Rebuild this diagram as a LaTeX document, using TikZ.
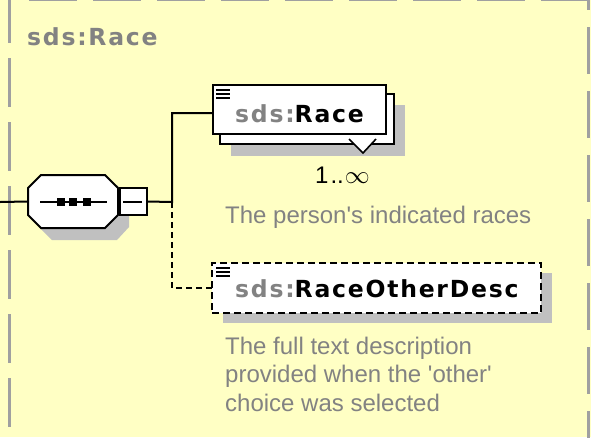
\documentclass[tikz,border=0pt]{standalone}
\usepackage{fontspec}
\setmainfont{Liberation Sans}
\newfontfamily\elfont[LetterSpace=7.5]{DejaVu Sans}
\definecolor{bgyellow}{HTML}{FFFFC4}
\definecolor{framegray}{HTML}{A0A0A0}
\definecolor{txtgray}{HTML}{828282}
\definecolor{shadowgray}{HTML}{C0C0C0}
\tikzset{
  frame/.style={draw=framegray, line width=3pt},
  conn/.style={draw=black, line width=2pt},
  dconn/.style={draw=black, line width=2pt, dash pattern=on 6pt off 4pt},
  elbox/.style={draw=black, fill=white, line width=2pt, rectangle, inner sep=0pt, outer sep=0pt, anchor=north west},
  shadow/.style={fill=shadowgray, draw=none},
  eltext/.style={anchor=base west, inner sep=0pt, font=\elfont\bfseries\fontsize{23.5}{28}\selectfont},
  desc/.style={anchor=base west, inner sep=0pt, text=txtgray, font=\fontsize{24}{28}\selectfont},
  icon/.style={draw=black, line width=1.6pt},
}
\begin{document}
\begin{tikzpicture}[x=1pt,y=-1pt]
\useasboundingbox (0,0) rectangle (591,437);
\fill[bgyellow] (0,0) rectangle (591,437);
% dashed group frame
\draw[frame, dash pattern=on 49pt off 15pt] (9.5,-6) -- (9.5,440);
\draw[frame, dash pattern=on 48pt off 16pt] (29,-0.5) -- (600,-0.5);
\draw[frame, dash pattern=on 47pt off 17pt] (588.3,-37) -- (588.3,440);
% title
\node[eltext, text=txtgray] (title) at (27,45) {sds:Race};
% sequence compositor
\fill[shadowgray] (52,185) -- (117,185) -- (129,198) -- (129,227) -- (117,240) -- (52,240) -- (39,227) -- (39,198) -- cycle;
\filldraw[fill=white, draw=black, line width=2pt] (41,175) -- (105,175) -- (118,188) -- (118,215) -- (105,228) -- (41,228) -- (28,215) -- (28,188) -- cycle;
\node[inner sep=0pt, minimum width=90pt, minimum height=53pt] (seq) at (73,201.5) {};
\draw[line width=2pt] (40,202) -- (107,202);
\foreach \cx in {61,73,87} \fill (\cx-4,198) rectangle (\cx+4,206);
% minus box
\node[draw=black, fill=white, line width=2pt, inner sep=0pt, minimum width=27pt, minimum height=27pt] (minus) at (133,201.5) {};
\draw[line width=2pt] (123,202) -- (142,202);
\coordinate (in) at (0,202);
\draw[conn] (in) -- (seq.west);
\coordinate (j) at (172,202);
% Race element (repeated)
\fill[shadow] (231,105) rectangle (405,156);
\node[elbox, minimum width=174pt, minimum height=50pt] (raceback) at (220,94) {};
\fill[white] (349,139) -- (363,153) -- (376,139) -- cycle;
\draw[line width=1.6pt] (349,139) -- (363,153) -- (376,139);
\node[elbox, minimum width=173pt, minimum height=49pt] (race) at (213,85) {};
\draw[icon] (216,90) -- (230,90) (216,94) -- (230,94) (216,98) -- (230,98);
\node[eltext] (racelbl) at (235,122) {\textcolor{txtgray}{sds:}Race};
\node[anchor=base west, inner sep=0pt, font=\fontsize{24}{28}\selectfont] (card) at (315,183) {1\kern2pt..\kern1pt$\infty$};
\node[desc] (racedesc) at (225,223) {The person\textquotesingle s indicated races};
% RaceOtherDesc element (optional)
\fill[shadow] (223,273) rectangle (552,323);
\node[elbox, minimum width=329pt, minimum height=50pt, dash pattern=on 7pt off 4pt] (other) at (212,263) {};
\draw[icon] (216,268) -- (230,268) (216,272) -- (230,272) (216,276) -- (230,276);
\node[eltext] (otherlbl) at (235,297) {\textcolor{txtgray}{sds:}RaceOtherDesc};
\node[desc] (od1) at (225,354) {The full text description};
\node[desc] (od2) at (225,382) {provided when the \textquotesingle other\textquotesingle};
\node[desc] (od3) at (225,411) {choice was selected};
% connectors
\draw[conn] (minus.east) -- (j) |- ([yshift=-3.5pt]race.west);
\draw[dconn] (j) |- (other.west);
\end{tikzpicture}
\end{document}
